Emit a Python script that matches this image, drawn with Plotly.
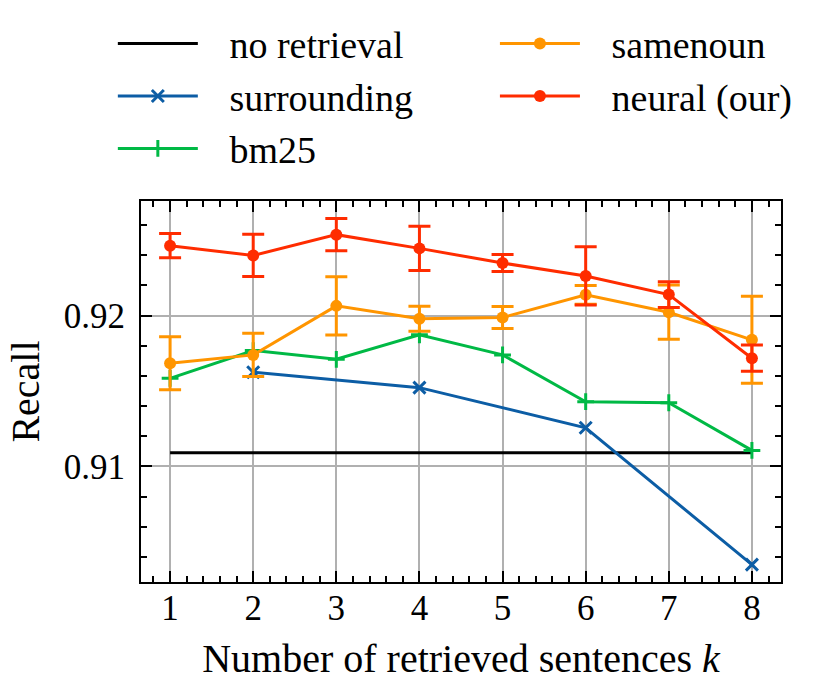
import plotly.graph_objects as go

# ==========================================
# DATOS
# ==========================================
k_all = [1, 2, 3, 4, 5, 6, 7, 8]
k_surr = [2, 4, 6, 8]

no_retrieval = [0.9109, 0.9109]
no_retrieval_k = [1, 8]

surrounding = [0.91624, 0.91522, 0.91256, 0.90349]
bm25 = [0.91584, 0.91768, 0.91710, 0.91872, 0.91739, 0.91429, 0.91422, 0.91106]

samenoun = [0.91684, 0.91739, 0.92064, 0.91978, 0.91987, 0.92137, 0.92022, 0.91839]
samenoun_err = [0.00176, 0.00143, 0.00193, 0.00083, 0.00073, 0.00062, 0.00180, 0.00288]

neural = [0.92463, 0.92398, 0.92536, 0.92445, 0.92348, 0.92262, 0.92139, 0.91717]
neural_err = [0.00080, 0.00140, 0.00107, 0.00147, 0.00057, 0.00193, 0.00085, 0.00087]

AZUL = "#0C5DA5"
VERDE = "#00B945"
NARANJA = "#FF9500"
ROJO = "#FF2C00"
FUENTE = "Liberation Serif"
ESP = "\u2002\u2009"  # hueco entre la muestra y el texto de la leyenda

# ==========================================
# TRAZAS
# ==========================================
fig = go.Figure()

fig.add_trace(go.Scatter(
    x=no_retrieval_k, y=no_retrieval, mode="lines", name=ESP + "no retrieval",
    line=dict(color="black", width=3), legend="legend"
))
fig.add_trace(go.Scatter(
    x=k_surr, y=surrounding, mode="lines+markers", name=ESP + "surrounding",
    line=dict(color=AZUL, width=3),
    marker=dict(symbol="x-thin", size=12, line=dict(color=AZUL, width=3)),
    legend="legend"
))
fig.add_trace(go.Scatter(
    x=k_all, y=bm25, mode="lines+markers", name=ESP + "bm25",
    line=dict(color=VERDE, width=3),
    marker=dict(symbol="cross-thin", size=12, line=dict(color=VERDE, width=3)),
    legend="legend"
))
fig.add_trace(go.Scatter(
    x=k_all, y=samenoun, mode="lines+markers", name=ESP + "samenoun",
    line=dict(color=NARANJA, width=3),
    marker=dict(symbol="circle", size=12, color=NARANJA),
    error_y=dict(type="data", array=samenoun_err, color=NARANJA, thickness=3, width=11),
    legend="legend2"
))
fig.add_trace(go.Scatter(
    x=k_all, y=neural, mode="lines+markers", name=ESP + "neural (our)",
    line=dict(color=ROJO, width=3),
    marker=dict(symbol="circle", size=12, color=ROJO),
    error_y=dict(type="data", array=neural_err, color=ROJO, thickness=3, width=11),
    legend="legend2"
))

# ==========================================
# EJES Y LAYOUT
# ==========================================
estilo_ejes = dict(
    showline=True, linecolor="black", linewidth=2, mirror="allticks",
    ticks="inside", ticklen=11, tickwidth=2, tickcolor="black",
    showgrid=True, gridcolor="#b0b0b0", gridwidth=1.5,
    zeroline=False,
    tickfont=dict(family=FUENTE, size=35, color="black"),
)

fig.update_xaxes(
    range=[0.65, 8.35], tickvals=k_all, ticklabelstandoff=-6,
    title=dict(text="Number of retrieved sentences <i>k</i>",
               font=dict(family=FUENTE, size=40, color="black"), standoff=17),
    minor=dict(ticks="inside", ticklen=6, tickwidth=1.5, tickcolor="black",
               dtick=0.2, tick0=0, showgrid=False),
    **estilo_ejes
)
fig.update_yaxes(
    range=[0.90234, 0.92759], tickvals=[0.91, 0.92], ticktext=["0.91", "0.92"],
    ticklabelstandoff=7,
    title=dict(text="Recall", font=dict(family=FUENTE, size=40, color="black"), standoff=12),
    minor=dict(ticks="inside", ticklen=6, tickwidth=1.5, tickcolor="black",
               dtick=0.002, tick0=0.9, showgrid=False),
    **estilo_ejes
)

estilo_leyenda = dict(
    orientation="v", y=1.495, xanchor="left", yanchor="top", itemwidth=80,
    font=dict(family=FUENTE, size=38, color="black"),
    bgcolor="rgba(0,0,0,0)", traceorder="normal",
)

fig.update_layout(
    width=831, height=691,
    margin=dict(l=141, r=50, t=201, b=109),
    paper_bgcolor="white", plot_bgcolor="white",
    font=dict(family=FUENTE, size=38, color="black"),
    legend=dict(x=-0.044, **estilo_leyenda),
    legend2=dict(x=0.553, **estilo_leyenda),
)

fig.write_html("out.html", config={"displayModeBar": False},
               post_script="document.body.style.margin='0';")
